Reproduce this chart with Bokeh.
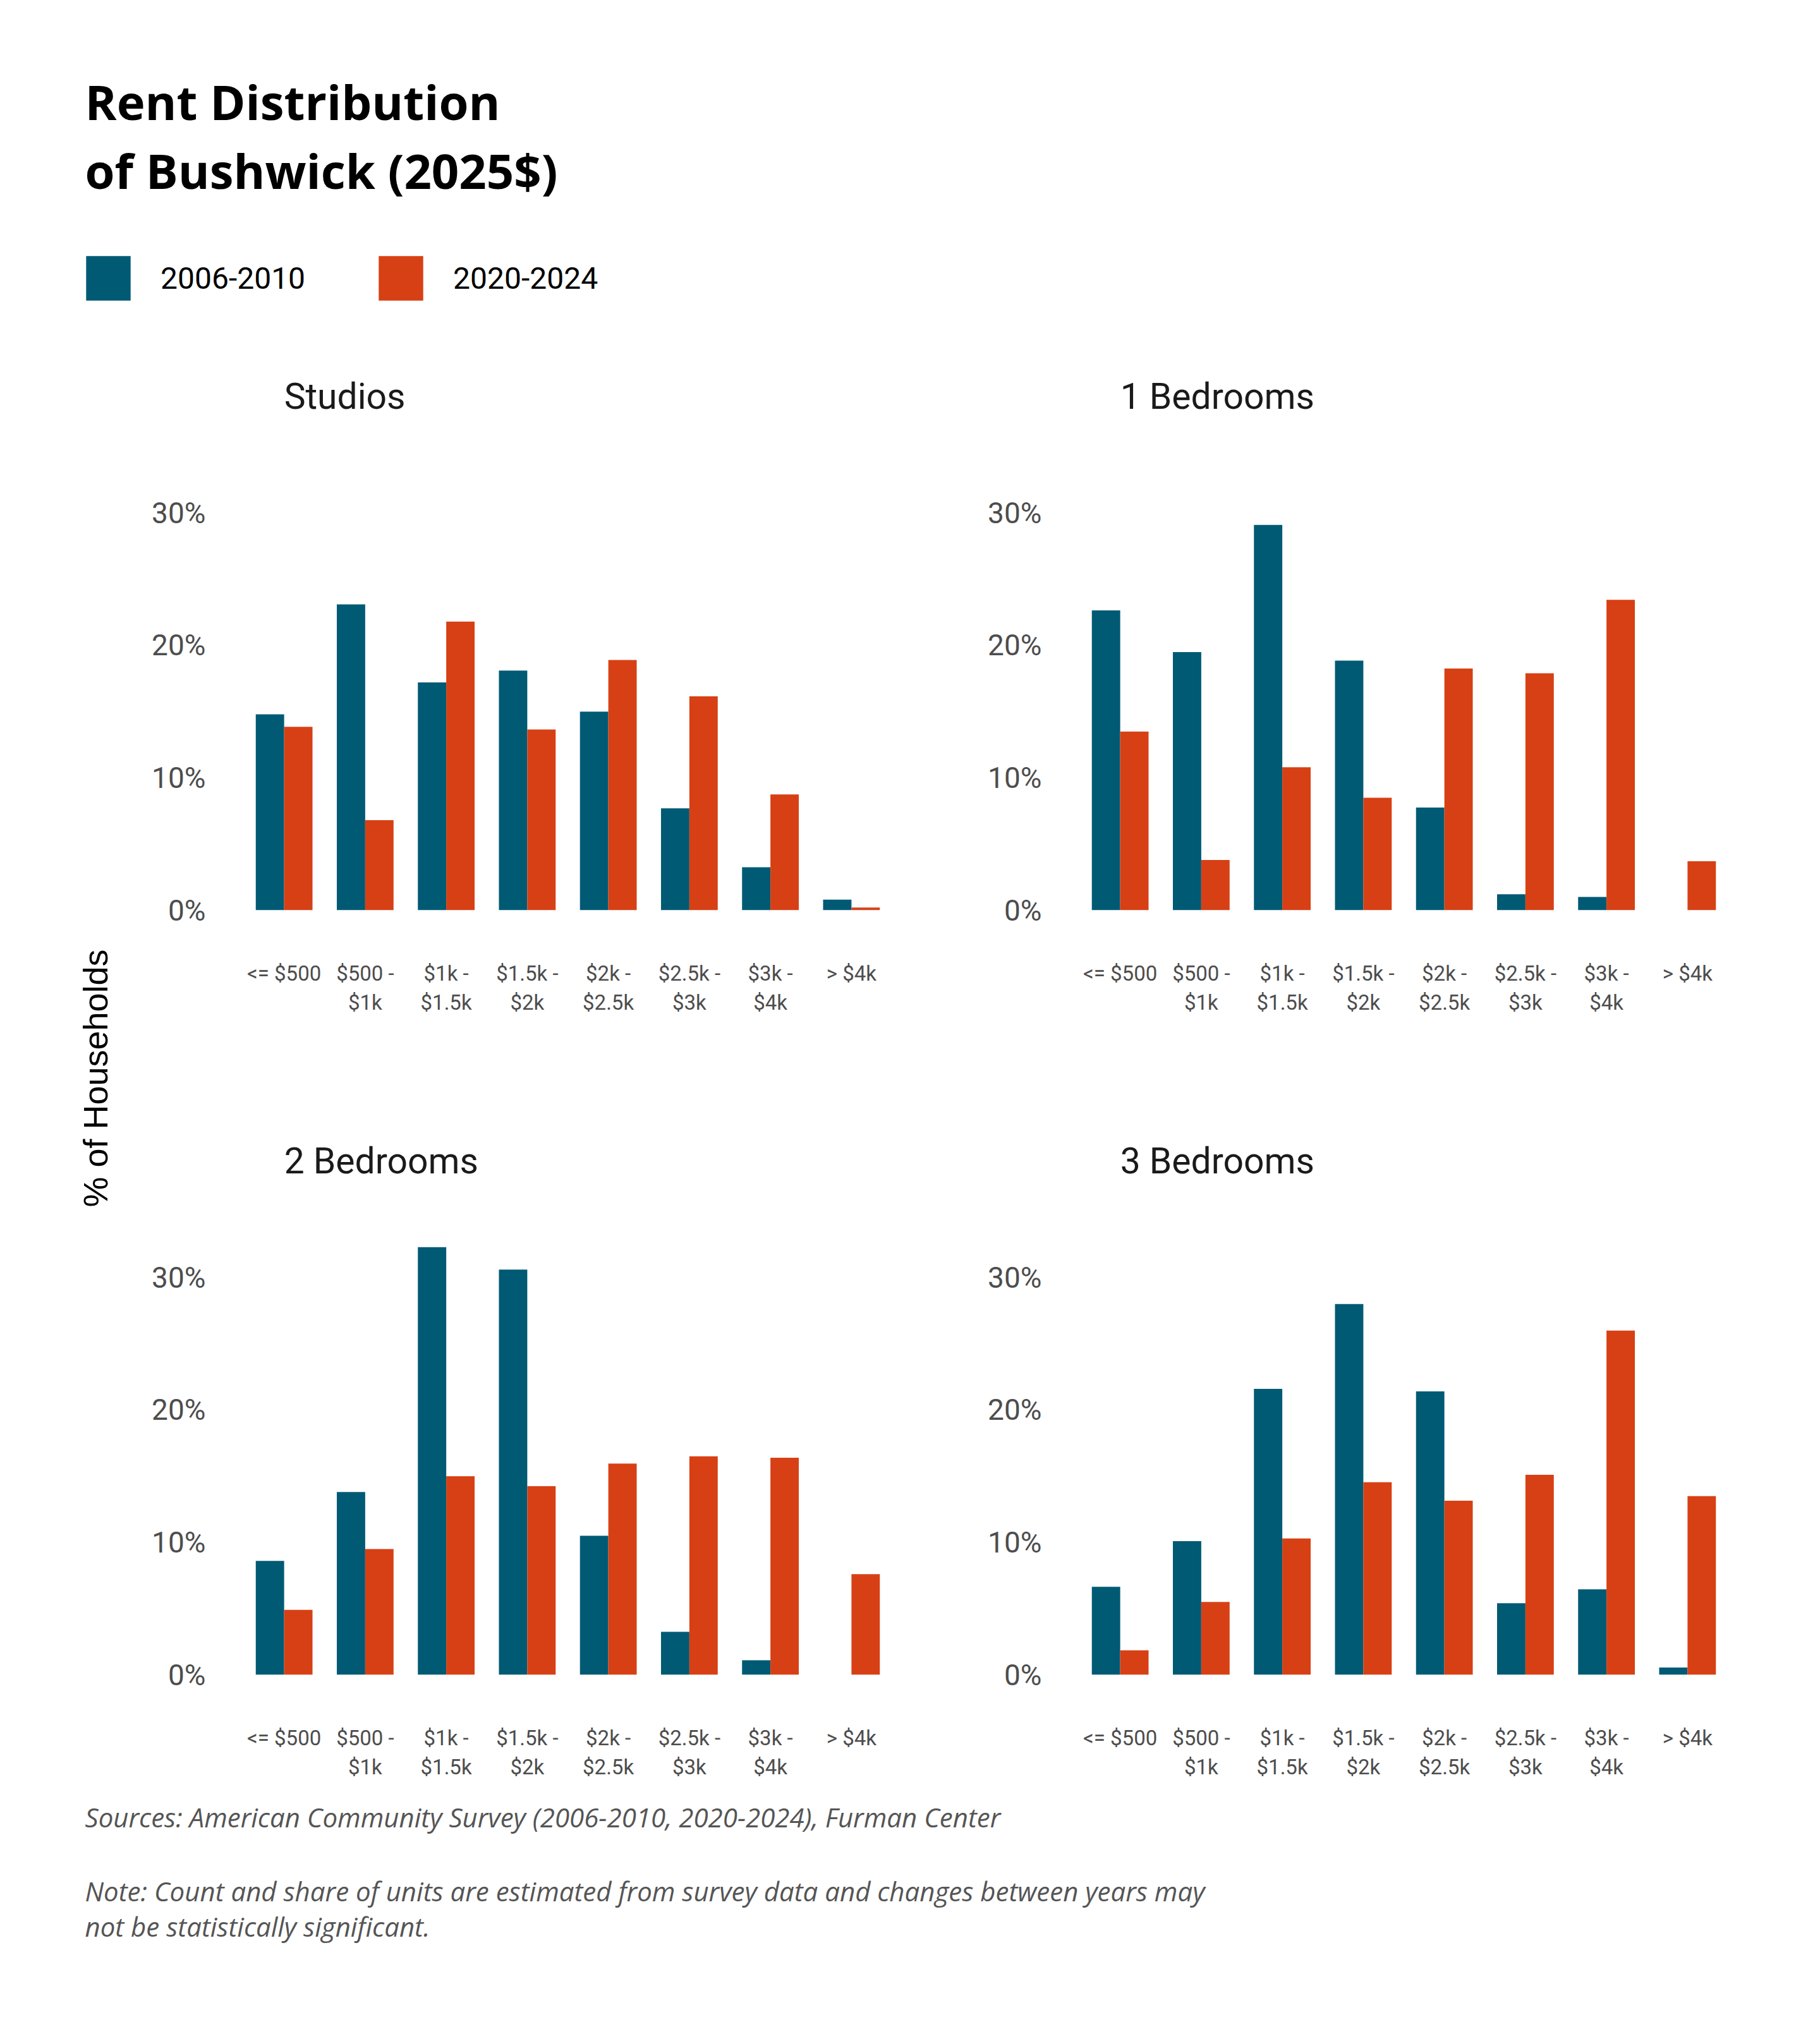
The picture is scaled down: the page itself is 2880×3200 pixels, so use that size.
import math

from bokeh.core.properties import value
from bokeh.embed import file_html
from bokeh.layouts import column, row
from bokeh.models import (ColumnDataSource, FactorRange, FixedTicker, Label,
                          Legend, LegendItem, PrintfTickFormatter, Range1d)
from bokeh.plotting import figure
from bokeh.resources import INLINE
from bokeh.transform import dodge

# rent bins (tick labels) and the two survey periods
rent_bins = ["<= $500", "$500 -\n$1k", "$1k -\n$1.5k", "$1.5k -\n$2k",
             "$2k -\n$2.5k", "$2.5k -\n$3k", "$3k -\n$4k", "> $4k"]
periods = ["2006-2010", "2020-2024"]
colors = ["#015a74", "#d74014"]

# % of households
studios_0610 = [14.8, 23.1, 17.2, 18.1, 15.0, 7.7, 3.25, 0.8]
studios_2024 = [13.85, 6.8, 21.8, 13.65, 18.9, 16.15, 8.75, 0.2]
br1_0610 = [22.65, 19.5, 29.1, 18.85, 7.75, 1.2, 1.0, 0.0]
br1_2024 = [13.5, 3.8, 10.8, 8.5, 18.25, 17.9, 23.45, 3.7]
br2_0610 = [8.6, 13.8, 32.3, 30.6, 10.5, 3.25, 1.1, 0.0]
br2_2024 = [4.9, 9.5, 15.0, 14.25, 15.95, 16.5, 16.4, 7.6]
br3_0610 = [6.65, 10.1, 21.6, 28.0, 21.4, 5.4, 6.45, 0.55]
br3_2024 = [1.85, 5.5, 10.3, 14.55, 13.15, 15.1, 26.0, 13.5]

panel_titles = ["Studios", "1 Bedrooms", "2 Bedrooms", "3 Bedrooms"]
y_ticks = [0, 10, 20, 30]

title_lines = ["Rent Distribution", "of Bushwick (2025$)"]
y_label = "% of Households"
source_note = "Sources: American Community Survey (2006-2010, 2020-2024), Furman Center"
note_lines = ["Note: Count and share of units are estimated from survey data and changes between years may",
              "not be statistically significant."]

TEXT_FONT = "Roboto"


def blank(width, height):
    # plain canvas in pixel units, y growing downwards
    p = figure(width=width, height=height, x_range=Range1d(0, width),
               y_range=Range1d(height, 0), toolbar_location=None,
               output_backend="svg", title=None, min_border=0,
               x_axis_location=None, y_axis_location=None)
    p.grid.visible = False
    p.outline_line_color = None
    return p


def panel(title, old, new, width, left, right, height, bottom):
    src = ColumnDataSource(dict(bin=rent_bins, old=old, new=new))
    p = figure(x_range=FactorRange(*rent_bins), y_range=Range1d(0, 42),
               width=width, height=height, toolbar_location=None,
               output_backend="svg", title=None,
               min_border_left=left, min_border_right=right,
               min_border_top=0, min_border_bottom=bottom)
    p.vbar(x=dodge("bin", -0.175, range=p.x_range), top="old", width=0.35,
           source=src, fill_color=colors[0], line_color=None)
    p.vbar(x=dodge("bin", 0.175, range=p.x_range), top="new", width=0.35,
           source=src, fill_color=colors[1], line_color=None)

    p.grid.visible = False
    p.outline_line_color = None

    p.yaxis.ticker = FixedTicker(ticks=y_ticks)
    p.yaxis.formatter = PrintfTickFormatter(format="%d%%")
    p.axis.axis_line_color = None
    p.axis.major_tick_line_color = None
    p.axis.minor_tick_line_color = None
    p.axis.major_tick_out = 0
    p.axis.major_tick_in = 0
    p.yaxis.major_label_standoff = 60
    p.yaxis.major_label_text_font = TEXT_FONT
    p.yaxis.major_label_text_font_size = "46px"
    p.yaxis.major_label_text_color = "#4d4d4d"
    p.xaxis.major_label_standoff = 80
    p.xaxis.major_label_text_font = TEXT_FONT
    p.xaxis.major_label_text_font_size = "33px"
    p.xaxis.major_label_text_color = "#4d4d4d"
    p.xaxis.major_label_text_line_height = 1.2

    p.add_layout(Label(x=0.5, y=38.8, text=title, text_align="left",
                       text_baseline="middle", text_font=TEXT_FONT,
                       text_font_size="57px", text_color="#1a1a1a"))
    return p


# header: title and legend
header = blank(2880, 560)
header.text(x=[134, 134], y=[160, 269], text=title_lines,
            text_font=value("Open Sans"), text_font_style="bold",
            text_font_size="76px", text_color="#000000",
            text_baseline="alphabetic")
# legend proxies: one empty (NaN) bar each, so that the legend has swatches
r_old = header.vbar(x=[0], top=[float("nan")], width=1,
                    fill_color=colors[0], line_color=None)
r_new = header.vbar(x=[0], top=[float("nan")], width=1,
                    fill_color=colors[1], line_color=None)
# area swatches are inset by 10% per side, hence 88px glyphs for 70px squares
legend = Legend(items=[LegendItem(label=periods[0], renderers=[r_old]),
                       LegendItem(label=periods[1], renderers=[r_new])],
                orientation="horizontal", location=(127, 76),
                glyph_width=88, glyph_height=88, label_standoff=39,
                spacing=107, padding=0, margin=0,
                border_line_color=None, background_fill_alpha=0,
                label_text_font=TEXT_FONT, label_text_font_size="48px",
                label_text_color="#000000")
header.add_layout(legend)

# y axis title shared by the four panels
ylab = blank(200, 2280)
ylab.text(x=[150], y=[1146], text=[y_label], angle=math.pi / 2,
          text_font=value("Liberation Sans"), text_font_size="54px",
          text_color="#000000", text_align="center", text_baseline="middle")

p1 = panel(panel_titles[0], studios_0610, studios_2024, 1360, 185, 149, 1210, 330)
p2 = panel(panel_titles[1], br1_0610, br1_2024, 1312, 147, 138, 1210, 330)
p3 = panel(panel_titles[2], br2_0610, br2_2024, 1360, 185, 149, 1070, 190)
p4 = panel(panel_titles[3], br3_0610, br3_2024, 1312, 147, 138, 1070, 190)

# footer: sources and note
footer = blank(2880, 360)
footer.text(x=[134, 134, 134], y=[35, 152, 208],
            text=[source_note] + note_lines,
            text_font=value("Open Sans"), text_font_style="italic",
            text_font_size="42px", text_color="#555555",
            text_baseline="middle")

layout = column(header,
                row(ylab, column(row(p1, p2), row(p3, p4))),
                footer)

open("out.html", "w").write(file_html(layout, INLINE))
